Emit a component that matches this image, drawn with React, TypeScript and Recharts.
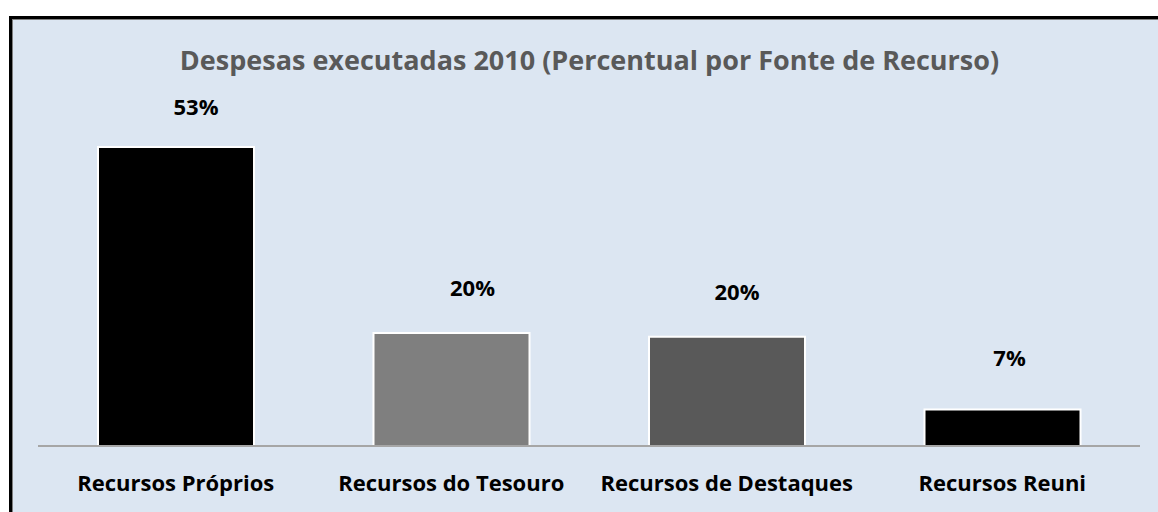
import { Bar, BarChart, Cell, LabelList, XAxis, YAxis } from "recharts";

// fonte de recurso e percentual executado em 2010
const categorias = [
  "Recursos Próprios",
  "Recursos do Tesouro",
  "Recursos de Destaques",
  "Recursos Reuni",
];
const percentuais = [53.4, 20.2, 19.5, 6.5];
const cores = ["#000000", "#7f7f7f", "#595959", "#000000"];

// deslocamento manual dos rótulos (como no Excel)
const rotuloDx = [20, 21, 10, 7];
const rotuloDy = [41, 46, 46, 53];

const dados = categorias.map((nome, i) => ({ nome, valor: percentuais[i] }));

const FONTE = "'Open Sans', sans-serif";

const RotuloValor = (props: any) => {
  const { x, y, width, value, index } = props;
  return (
    <text
      x={x + width / 2 + rotuloDx[index]}
      y={y - rotuloDy[index]}
      textAnchor="middle"
      dominantBaseline="central"
      fontFamily={FONTE}
      fontWeight="bold"
      fontSize={22}
      fill="#000"
    >
      {Math.round(value) + "%"}
    </text>
  );
};

export default function App() {
  return (
    <div
      style={{
        position: "fixed",
        left: 9,
        top: 16,
        width: 1149,
        height: 496,
        borderLeft: "3px solid #000",
        borderTop: "3px solid #000",
        background: "#dce6f2",
        boxSizing: "border-box",
      }}
    >
      <div
        style={{
          position: "absolute",
          inset: 0,
          borderLeft: "1px solid #7f7f7f",
          borderTop: "1px solid #7f7f7f",
        }}
      >
        <div
          style={{
            position: "absolute",
            left: 0,
            width: 1145,
            top: 21,
            textAlign: "center",
            fontFamily: FONTE,
            fontWeight: "bold",
            fontSize: 27,
            color: "#595959",
            paddingLeft: 8,
            boxSizing: "border-box",
          }}
        >
          Despesas executadas 2010 (Percentual por Fonte de Recurso)
        </div>
        <BarChart
          width={1145}
          height={492}
          data={dados}
          margin={{ top: 90, right: 18, bottom: 0, left: 25 }}
          barCategoryGap={0}
        >
          <YAxis hide domain={[0, 60]} />
          <XAxis
            dataKey="nome"
            height={66}
            axisLine={{ stroke: "#a6a6a6", strokeWidth: 2 }}
            tickLine={false}
            tickMargin={23}
            interval={0}
            tick={{
              fill: "#000",
              fontFamily: FONTE,
              fontWeight: "bold",
              fontSize: 22,
            }}
          />
          <Bar
            dataKey="valor"
            barSize={156}
            stroke="#ffffff"
            strokeWidth={2}
            isAnimationActive={false}
          >
            {dados.map((d, i) => (
              <Cell key={d.nome} fill={cores[i]} />
            ))}
            <LabelList dataKey="valor" content={RotuloValor} />
          </Bar>
        </BarChart>
      </div>
    </div>
  );
}
